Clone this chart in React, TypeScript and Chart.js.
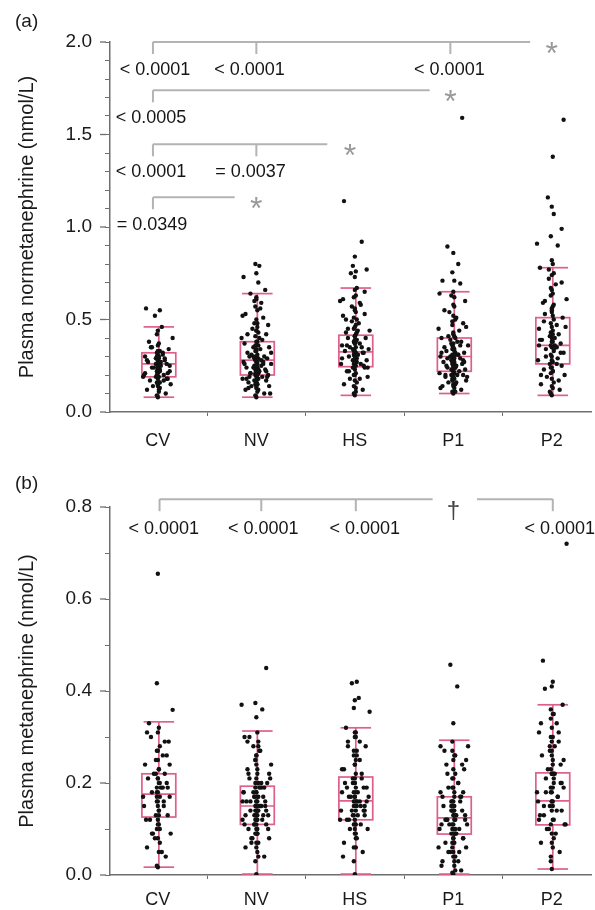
import React, { useEffect, useRef } from 'react';
import { Chart, registerables } from 'chart.js';
Chart.register(...registerables);

const FONT = '"Liberation Sans", Arial, Helvetica, sans-serif';
const PINK = '#df5f88';
const BRACKET_GRAY = '#b3b3b3';
const AXIS_GRAY = '#6e6e6e';

const CATEGORIES = ['CV', 'NV', 'HS', 'P1', 'P2'];
const X_TICKS = [0, 0.5, 1, 1.5, 2, 2.5, 3, 3.5, 4];

// horizontal jitter (category units) for the i-th point of a group
const JITTER = [
  0.00, -0.01, 0.08, 0.01, -0.11, 0.02, 0.00, -0.05, 0.13, -0.01,
  0.01, -0.08, 0.00, 0.10, -0.02, 0.01, -0.14, 0.06, 0.00, -0.01,
  0.12, 0.02, -0.06, 0.00, 0.03, -0.01, 0.09, 0.01, -0.10, 0.00,
  -0.02, 0.07, 0.01, -0.13, 0.00, 0.05, -0.01, 0.02, 0.11, -0.07,
  0.00, 0.01, -0.09, 0.15, -0.01, 0.00, 0.04, -0.03, 0.02, -0.12,
  0.01, 0.00, 0.06, -0.15, -0.01, 0.10, 0.02, 0.00, -0.04, 0.01,
  0.12, -0.02, 0.00, 0.07, -0.11, 0.01, -0.01, 0.05, 0.00, -0.06,
  0.09, 0.02, -0.13, 0.00, 0.03, -0.01, 0.14, -0.08, 0.01, 0.00,
  0.00, 0.02, -0.07, 0.01, -0.01, 0.10, 0.00, -0.03, 0.05, -0.12,
  0.01, 0.00, -0.02, 0.08, -0.05, 0.00, 0.13, -0.01, 0.03, -0.09,
  0.00, 0.01, -0.14, 0.04, -0.02, 0.00, 0.11, -0.06, 0.02, -0.01,
  0.07, 0.00, -0.10, 0.01, 0.15, -0.03, 0.00, 0.05, -0.08, 0.01,
];

// ---- Panel (a): plasma normetanephrine ----
const NORMET_CV = [0.08, 0.09, 0.10, 0.11, 0.12, 0.13, 0.14, 0.14, 0.15, 0.16, 0.16, 0.17, 0.18, 0.18, 0.19, 0.19, 0.20, 0.20, 0.21, 0.22, 0.22, 0.23, 0.24, 0.24, 0.25, 0.26, 0.26, 0.27, 0.27, 0.28, 0.29, 0.29, 0.30, 0.30, 0.31, 0.32, 0.32, 0.33, 0.34, 0.35, 0.36, 0.37, 0.38, 0.40, 0.42, 0.44, 0.46, 0.52, 0.55, 0.56,
  0.12, 0.15, 0.17, 0.19, 0.20, 0.21, 0.22, 0.23, 0.24, 0.25, 0.25, 0.26, 0.27, 0.28, 0.28, 0.29, 0.30, 0.31, 0.33, 0.35, 0.18, 0.16, 0.21, 0.24, 0.27];
const NORMET_NV = [0.08, 0.09, 0.10, 0.11, 0.12, 0.12, 0.13, 0.14, 0.14, 0.15, 0.15, 0.16, 0.16, 0.17, 0.17, 0.18, 0.18, 0.19, 0.19, 0.20, 0.20, 0.21, 0.21, 0.22, 0.22, 0.23, 0.23, 0.24, 0.24, 0.25, 0.25, 0.26, 0.26, 0.27, 0.27, 0.28, 0.28, 0.29, 0.29, 0.30, 0.30, 0.31, 0.32, 0.32, 0.33, 0.34, 0.34, 0.35, 0.36, 0.37, 0.38, 0.38, 0.39, 0.40, 0.41, 0.42, 0.43, 0.44, 0.45, 0.46, 0.47, 0.48, 0.50, 0.51, 0.53, 0.55, 0.57, 0.59, 0.61, 0.64, 0.66, 0.70, 0.73, 0.75, 0.79, 0.80,
  0.10, 0.13, 0.15, 0.16, 0.17, 0.18, 0.19, 0.20, 0.21, 0.22, 0.23, 0.24, 0.25, 0.26, 0.27, 0.28, 0.29, 0.30, 0.31, 0.33, 0.35, 0.36, 0.40, 0.42, 0.44, 0.48, 0.52, 0.56, 0.60, 0.62, 0.19, 0.21, 0.23, 0.25, 0.27, 0.14, 0.18, 0.22, 0.26, 0.30];
const NORMET_HS = [0.09, 0.10, 0.12, 0.13, 0.15, 0.16, 0.17, 0.18, 0.19, 0.20, 0.21, 0.22, 0.23, 0.24, 0.24, 0.25, 0.26, 0.26, 0.27, 0.28, 0.28, 0.29, 0.30, 0.30, 0.31, 0.31, 0.32, 0.32, 0.33, 0.33, 0.34, 0.35, 0.35, 0.36, 0.37, 0.37, 0.38, 0.39, 0.40, 0.40, 0.41, 0.42, 0.43, 0.44, 0.45, 0.46, 0.48, 0.49, 0.50, 0.52, 0.54, 0.56, 0.58, 0.60, 0.62, 0.65, 0.67, 0.73, 0.75, 0.76, 0.77, 0.79, 0.84, 0.92, 1.14,
  0.11, 0.14, 0.18, 0.20, 0.22, 0.25, 0.27, 0.29, 0.30, 0.31, 0.33, 0.34, 0.36, 0.38, 0.39, 0.41, 0.43, 0.45, 0.47, 0.51, 0.53, 0.55, 0.57, 0.59, 0.61, 0.63, 0.66, 0.28, 0.32, 0.35, 0.37, 0.24, 0.26, 0.44, 0.50];
const NORMET_P1 = [0.10, 0.11, 0.12, 0.13, 0.14, 0.15, 0.15, 0.16, 0.17, 0.17, 0.18, 0.19, 0.19, 0.20, 0.20, 0.21, 0.21, 0.22, 0.22, 0.23, 0.23, 0.24, 0.24, 0.25, 0.25, 0.26, 0.26, 0.27, 0.27, 0.28, 0.28, 0.29, 0.29, 0.30, 0.30, 0.31, 0.31, 0.32, 0.32, 0.33, 0.34, 0.34, 0.35, 0.36, 0.36, 0.37, 0.38, 0.39, 0.40, 0.40, 0.41, 0.42, 0.44, 0.45, 0.47, 0.48, 0.50, 0.52, 0.54, 0.57, 0.60, 0.63, 0.65, 0.695, 0.71, 0.71, 0.755, 0.80, 0.86, 0.895, 1.59,
  0.11, 0.13, 0.14, 0.16, 0.18, 0.19, 0.20, 0.21, 0.22, 0.23, 0.24, 0.25, 0.26, 0.27, 0.28, 0.29, 0.30, 0.31, 0.32, 0.33, 0.35, 0.37, 0.38, 0.41, 0.43, 0.46, 0.49, 0.51, 0.55, 0.58, 0.62, 0.64, 0.20, 0.23, 0.25, 0.27, 0.29, 0.31, 0.34, 0.36];
const NORMET_P2 = [0.09, 0.10, 0.12, 0.13, 0.15, 0.16, 0.18, 0.19, 0.20, 0.21, 0.22, 0.23, 0.24, 0.25, 0.26, 0.27, 0.28, 0.29, 0.30, 0.31, 0.32, 0.33, 0.34, 0.35, 0.36, 0.36, 0.37, 0.38, 0.39, 0.40, 0.41, 0.42, 0.44, 0.45, 0.46, 0.47, 0.48, 0.50, 0.51, 0.53, 0.55, 0.57, 0.59, 0.61, 0.63, 0.66, 0.69, 0.72, 0.75, 0.78, 0.80, 0.82, 0.90, 0.91, 0.95, 0.99, 1.07, 1.11, 1.16, 1.38, 1.58,
  0.11, 0.14, 0.17, 0.20, 0.22, 0.24, 0.26, 0.28, 0.30, 0.32, 0.34, 0.36, 0.38, 0.40, 0.43, 0.46, 0.49, 0.52, 0.54, 0.56, 0.58, 0.60, 0.64, 0.67, 0.70, 0.74, 0.77, 0.35, 0.39, 0.42];
const NORMET_WHISK_LOW = [0.08, 0.08, 0.09, 0.10, 0.09];
const NORMET_Q1 = [0.19, 0.20, 0.245, 0.22, 0.26];
const NORMET_MEDIAN = [0.26, 0.28, 0.325, 0.30, 0.36];
const NORMET_Q3 = [0.32, 0.38, 0.415, 0.40, 0.51];
const NORMET_WHISK_HIGH = [0.46, 0.64, 0.67, 0.65, 0.78];
const NORMET_Y_LABELS = ['0.0', '0.5', '1.0', '1.5', '2.0'];

// ---- Panel (b): plasma metanephrine ----
const MET_CV = [0.017, 0.02, 0.04, 0.05, 0.06, 0.07, 0.08, 0.09, 0.09, 0.10, 0.11, 0.12, 0.12, 0.13, 0.13, 0.14, 0.15, 0.15, 0.16, 0.16, 0.17, 0.17, 0.18, 0.18, 0.19, 0.19, 0.20, 0.20, 0.21, 0.21, 0.22, 0.22, 0.23, 0.24, 0.25, 0.26, 0.27, 0.28, 0.29, 0.30, 0.31, 0.32, 0.33, 0.359, 0.417, 0.655,
  0.05, 0.08, 0.10, 0.12, 0.14, 0.15, 0.16, 0.17, 0.18, 0.19, 0.20, 0.21, 0.22, 0.23, 0.24, 0.25, 0.27, 0.29, 0.31, 0.13, 0.17, 0.19, 0.11, 0.09, 0.26];
const MET_NV = [0.002, 0.03, 0.04, 0.05, 0.06, 0.07, 0.07, 0.08, 0.08, 0.09, 0.09, 0.10, 0.10, 0.11, 0.11, 0.12, 0.12, 0.12, 0.13, 0.13, 0.13, 0.14, 0.14, 0.14, 0.15, 0.15, 0.15, 0.16, 0.16, 0.16, 0.17, 0.17, 0.17, 0.18, 0.18, 0.19, 0.19, 0.20, 0.20, 0.21, 0.21, 0.22, 0.23, 0.24, 0.25, 0.26, 0.27, 0.28, 0.29, 0.30, 0.31, 0.343, 0.36, 0.37, 0.374, 0.45,
  0.04, 0.06, 0.08, 0.09, 0.10, 0.11, 0.12, 0.13, 0.13, 0.14, 0.14, 0.15, 0.15, 0.16, 0.16, 0.17, 0.18, 0.18, 0.19, 0.20, 0.21, 0.22, 0.23, 0.24, 0.26, 0.28, 0.30, 0.10, 0.12, 0.14, 0.16, 0.18, 0.20, 0.11, 0.13, 0.15, 0.17, 0.19, 0.07, 0.09, 0.22, 0.25, 0.27, 0.29, 0.12, 0.14, 0.16, 0.15, 0.13, 0.11];
const MET_HS = [0.002, 0.03, 0.05, 0.06, 0.07, 0.08, 0.09, 0.10, 0.10, 0.11, 0.11, 0.12, 0.12, 0.13, 0.13, 0.14, 0.14, 0.15, 0.15, 0.16, 0.16, 0.16, 0.17, 0.17, 0.18, 0.18, 0.19, 0.19, 0.20, 0.20, 0.21, 0.21, 0.22, 0.23, 0.24, 0.25, 0.26, 0.27, 0.28, 0.29, 0.30, 0.31, 0.32, 0.355, 0.363, 0.38, 0.385, 0.417, 0.42,
  0.04, 0.08, 0.10, 0.11, 0.12, 0.13, 0.14, 0.15, 0.16, 0.17, 0.18, 0.19, 0.20, 0.21, 0.22, 0.23, 0.25, 0.27, 0.29, 0.31, 0.12, 0.14, 0.16, 0.18, 0.20, 0.13, 0.15, 0.17, 0.19, 0.09, 0.11, 0.24, 0.26, 0.28, 0.30, 0.06, 0.15, 0.17, 0.14, 0.16];
const MET_P1 = [0.002, 0.005, 0.01, 0.02, 0.03, 0.04, 0.05, 0.05, 0.06, 0.06, 0.07, 0.07, 0.08, 0.08, 0.09, 0.09, 0.10, 0.10, 0.11, 0.11, 0.12, 0.12, 0.12, 0.13, 0.13, 0.14, 0.14, 0.15, 0.15, 0.16, 0.16, 0.17, 0.17, 0.18, 0.19, 0.20, 0.21, 0.22, 0.23, 0.24, 0.25, 0.26, 0.27, 0.28, 0.29, 0.33, 0.41, 0.457,
  0.01, 0.02, 0.03, 0.04, 0.05, 0.06, 0.07, 0.08, 0.09, 0.10, 0.11, 0.12, 0.13, 0.14, 0.15, 0.16, 0.17, 0.18, 0.19, 0.20, 0.21, 0.22, 0.24, 0.26, 0.28, 0.08, 0.09, 0.10, 0.11, 0.12, 0.13, 0.14, 0.15, 0.10, 0.12, 0.14, 0.16, 0.18, 0.07, 0.05, 0.03, 0.11, 0.13, 0.09, 0.15, 0.17, 0.19, 0.23, 0.25, 0.27];
const MET_P2 = [0.013, 0.03, 0.05, 0.06, 0.07, 0.08, 0.09, 0.10, 0.11, 0.11, 0.12, 0.13, 0.14, 0.14, 0.15, 0.16, 0.16, 0.17, 0.18, 0.18, 0.19, 0.20, 0.21, 0.22, 0.22, 0.23, 0.24, 0.25, 0.26, 0.27, 0.28, 0.29, 0.30, 0.31, 0.32, 0.33, 0.34, 0.35, 0.37, 0.405, 0.41, 0.42, 0.466, 0.72,
  0.04, 0.07, 0.09, 0.10, 0.12, 0.13, 0.15, 0.16, 0.17, 0.18, 0.19, 0.20, 0.21, 0.22, 0.23, 0.24, 0.25, 0.27, 0.29, 0.31, 0.33, 0.35, 0.36, 0.14, 0.16, 0.18, 0.20, 0.22, 0.12, 0.26, 0.28, 0.30, 0.11, 0.15, 0.19];
const MET_WHISK_LOW = [0.017, 0.002, 0.002, 0.002, 0.013];
const MET_Q1 = [0.126, 0.11, 0.12, 0.089, 0.109];
const MET_MEDIAN = [0.176, 0.15, 0.161, 0.124, 0.161];
const MET_Q3 = [0.22, 0.193, 0.213, 0.17, 0.222];
const MET_WHISK_HIGH = [0.333, 0.313, 0.32, 0.293, 0.37];
const MET_Y_LABELS = ['0.0', '0.2', '0.4', '0.6', '0.8'];

// ---- significance annotations ----
const BRACKETS_A = [
  { level: 2.0, segments: [[-0.05, 3.78]], drops: [-0.05, 1.0, 2.97], mark: '*', markAt: 4.0 },
  { level: 1.739, segments: [[-0.05, 2.76]], drops: [-0.05], mark: '*', markAt: 2.97 },
  { level: 1.447, segments: [[-0.05, 1.72]], drops: [-0.05, 1.0], mark: '*', markAt: 1.95 },
  { level: 1.161, segments: [[-0.05, 0.78]], drops: [-0.05], mark: '*', markAt: 1.0 },
];
const PVALUES_A = [
  { text: '< 0.0001', at: -0.03, level: 2.0 },
  { text: '< 0.0001', at: 0.93, level: 2.0 },
  { text: '< 0.0001', at: 2.96, level: 2.0 },
  { text: '< 0.0005', at: -0.07, level: 1.739 },
  { text: '< 0.0001', at: -0.07, level: 1.447 },
  { text: '= 0.0037', at: 0.94, level: 1.447 },
  { text: '= 0.0349', at: -0.06, level: 1.161 },
];
const BRACKETS_B = [
  { level: 0.817, segments: [[0.017, 2.79], [3.24, 4.01]], drops: [0.017, 1.05, 2.01, 4.01], mark: '†', markAt: 3.0 },
];
const PVALUES_B = [
  { text: '< 0.0001', at: 0.06, level: 0.817 },
  { text: '< 0.0001', at: 1.07, level: 0.817 },
  { text: '< 0.0001', at: 2.10, level: 0.817 },
  { text: '< 0.0001', at: 4.08, level: 0.817 },
];

function buildPoints(groups: number[][]) {
  const pts: { x: number; y: number }[] = [];
  groups.forEach((vals, gi) => {
    vals.forEach((v, i) => pts.push({ x: gi + JITTER[i % JITTER.length], y: v }));
  });
  return pts;
}

const boxPlugin = {
  id: 'boxes',
  beforeDatasetsDraw(chart: any, _a: any, o: any) {
    const { ctx, scales } = chart;
    const x = scales.x, y = scales.y;
    ctx.save();
    ctx.strokeStyle = PINK;
    ctx.lineWidth = 1.7;
    const ln = (x1: number, y1: number, x2: number, y2: number) => {
      ctx.beginPath(); ctx.moveTo(x1, y1); ctx.lineTo(x2, y2); ctx.stroke();
    };
    for (let i = 0; i < CATEGORIES.length; i++) {
      const cx = x.getPixelForValue(i + 0.01);
      const bl = x.getPixelForValue(i + 0.01 - 0.172);
      const br = x.getPixelForValue(i + 0.01 + 0.172);
      const cl = x.getPixelForValue(i + 0.01 - 0.155);
      const cr = x.getPixelForValue(i + 0.01 + 0.155);
      const yLo = y.getPixelForValue(o.low[i]);
      const yQ1 = y.getPixelForValue(o.q1[i]);
      const yMd = y.getPixelForValue(o.med[i]);
      const yQ3 = y.getPixelForValue(o.q3[i]);
      const yHi = y.getPixelForValue(o.high[i]);
      ln(cx, yHi, cx, yQ3);
      ln(cx, yQ1, cx, yLo);
      ln(cl, yHi, cr, yHi);
      ln(cl, yLo, cr, yLo);
      ctx.strokeRect(bl, yQ3, br - bl, yQ1 - yQ3);
      ln(bl, yMd, br, yMd);
    }
    ctx.restore();
  },
};

const annotPlugin = {
  id: 'annot',
  afterDraw(chart: any, _a: any, o: any) {
    const { ctx, scales } = chart;
    const x = scales.x, y = scales.y;
    ctx.save();
    // longer major y ticks
    ctx.strokeStyle = AXIS_GRAY;
    ctx.lineWidth = 1.3;
    const ax = chart.chartArea.left;
    y.ticks.forEach((t: any, i: number) => {
      if (i % o.majorEvery === 0) {
        const py = y.getPixelForValue(t.value);
        ctx.beginPath(); ctx.moveTo(ax - 10, py); ctx.lineTo(ax - 4, py); ctx.stroke();
      }
    });
    // brackets
    ctx.strokeStyle = BRACKET_GRAY;
    ctx.lineWidth = 2;
    ctx.textAlign = 'center';
    ctx.textBaseline = 'alphabetic';
    for (const b of o.brackets) {
      const py = y.getPixelForValue(b.level);
      for (const [s, e] of b.segments) {
        ctx.beginPath(); ctx.moveTo(x.getPixelForValue(s), py); ctx.lineTo(x.getPixelForValue(e), py); ctx.stroke();
      }
      for (const d of b.drops) {
        const px = x.getPixelForValue(d);
        ctx.beginPath(); ctx.moveTo(px, py); ctx.lineTo(px, py + 12); ctx.stroke();
      }
      if (b.mark === '*') {
        ctx.fillStyle = '#999999';
        ctx.font = `32px ${FONT}`;
        ctx.fillText('*', x.getPixelForValue(b.markAt), py + 22);
      } else {
        ctx.fillStyle = '#444444';
        ctx.font = `24px ${FONT}`;
        ctx.fillText(b.mark, x.getPixelForValue(b.markAt), py + 19);
      }
    }
    ctx.fillStyle = '#151515';
    ctx.font = `18px ${FONT}`;
    for (const p of o.pvalues) {
      ctx.fillText(p.text, x.getPixelForValue(p.at), y.getPixelForValue(p.level) + o.labelOffset);
    }
    ctx.restore();
  },
};

interface PanelCfg {
  groups: number[][];
  low: number[]; q1: number[]; med: number[]; q3: number[]; high: number[];
  yMax: number; yLabels: string[]; majorEvery: number; title: string;
  padTop: number; xAxisHeight: number; xLabelPad: number;
  brackets: any[]; pvalues: any[]; labelOffset: number;
}

function Panel({ cfg }: { cfg: PanelCfg }) {
  const ref = useRef<HTMLCanvasElement>(null);
  useEffect(() => {
    const chart = new Chart(ref.current as HTMLCanvasElement, {
      type: 'scatter',
      data: {
        datasets: [{
          data: buildPoints(cfg.groups),
          backgroundColor: '#111111',
          borderWidth: 0,
          pointRadius: 2.2,
        }],
      },
      plugins: [boxPlugin, annotPlugin],
      options: {
        animation: false,
        responsive: false,
        events: [],
        layout: { padding: { top: cfg.padTop, left: 0, right: 0, bottom: 0 } },
        plugins: {
          legend: { display: false },
          tooltip: { enabled: false },
          boxes: { low: cfg.low, q1: cfg.q1, med: cfg.med, q3: cfg.q3, high: cfg.high },
          annot: { brackets: cfg.brackets, pvalues: cfg.pvalues, labelOffset: cfg.labelOffset, majorEvery: cfg.majorEvery },
        } as any,
        scales: {
          x: {
            type: 'linear',
            min: -0.486,
            max: 4.398,
            afterBuildTicks: (s: any) => { s.ticks = X_TICKS.map((v) => ({ value: v })); },
            afterFit: (s: any) => { s.height = cfg.xAxisHeight; },
            border: { color: AXIS_GRAY, width: 1.5 },
            grid: {
              drawOnChartArea: false,
              tickLength: 4,
              tickColor: (c: any) => (c.tick && Number.isInteger(c.tick.value) ? 'rgba(0,0,0,0)' : AXIS_GRAY),
            },
            ticks: {
              autoSkip: false,
              maxRotation: 0,
              padding: cfg.xLabelPad,
              color: '#1a1a1a',
              font: { family: FONT, size: 18 },
              callback: (v: any) => (Number.isInteger(v) ? CATEGORIES[v] : ''),
            },
          },
          y: {
            type: 'linear',
            min: 0,
            max: cfg.yMax,
            afterFit: (s: any) => { s.width = 110; },
            border: { color: AXIS_GRAY, width: 1.5 },
            grid: { drawOnChartArea: false, tickLength: 5, tickColor: AXIS_GRAY },
            ticks: {
              stepSize: 0.1,
              autoSkip: false,
              padding: 13,
              color: '#1a1a1a',
              font: { family: FONT, size: 19 },
              callback: (_v: any, i: number) => (i % cfg.majorEvery === 0 ? cfg.yLabels[i / cfg.majorEvery] : ''),
            },
            title: {
              display: true,
              text: cfg.title,
              color: '#1a1a1a',
              font: { family: FONT, size: 20 },
              padding: { top: 15, bottom: 0 },
            },
          },
        },
      } as any,
    });
    return () => chart.destroy();
  }, []);
  return <canvas ref={ref} width={595} height={455} style={{ display: 'block', width: 595, height: 455 }} />;
}

const PANEL_A: PanelCfg = {
  groups: [NORMET_CV, NORMET_NV, NORMET_HS, NORMET_P1, NORMET_P2],
  low: NORMET_WHISK_LOW, q1: NORMET_Q1, med: NORMET_MEDIAN, q3: NORMET_Q3, high: NORMET_WHISK_HIGH,
  yMax: 2.0, yLabels: NORMET_Y_LABELS, majorEvery: 5, title: 'Plasma normetanephrine (nmol/L)',
  padTop: 42, xAxisHeight: 43, xLabelPad: 14,
  brackets: BRACKETS_A, pvalues: PVALUES_A, labelOffset: 33,
};

const PANEL_B: PanelCfg = {
  groups: [MET_CV, MET_NV, MET_HS, MET_P1, MET_P2],
  low: MET_WHISK_LOW, q1: MET_Q1, med: MET_MEDIAN, q3: MET_Q3, high: MET_WHISK_HIGH,
  yMax: 0.8, yLabels: MET_Y_LABELS, majorEvery: 2, title: 'Plasma metanephrine (nmol/L)',
  padTop: 52, xAxisHeight: 35, xLabelPad: 10,
  brackets: BRACKETS_B, pvalues: PVALUES_B, labelOffset: 35,
};

export default function App() {
  const letter: React.CSSProperties = {
    position: 'absolute', left: 15, fontFamily: FONT, fontSize: 19, lineHeight: '19px', color: '#1a1a1a',
  };
  return (
    <div style={{ position: 'absolute', left: 0, top: 0, width: 595, height: 910, background: '#fff', overflow: 'hidden' }}>
      <div style={{ position: 'absolute', left: 0, top: 0 }}><Panel cfg={PANEL_A} /></div>
      <div style={{ position: 'absolute', left: 0, top: 455 }}><Panel cfg={PANEL_B} /></div>
      <div style={{ ...letter, top: 11 }}>(a)</div>
      <div style={{ ...letter, top: 473 }}>(b)</div>
    </div>
  );
}
